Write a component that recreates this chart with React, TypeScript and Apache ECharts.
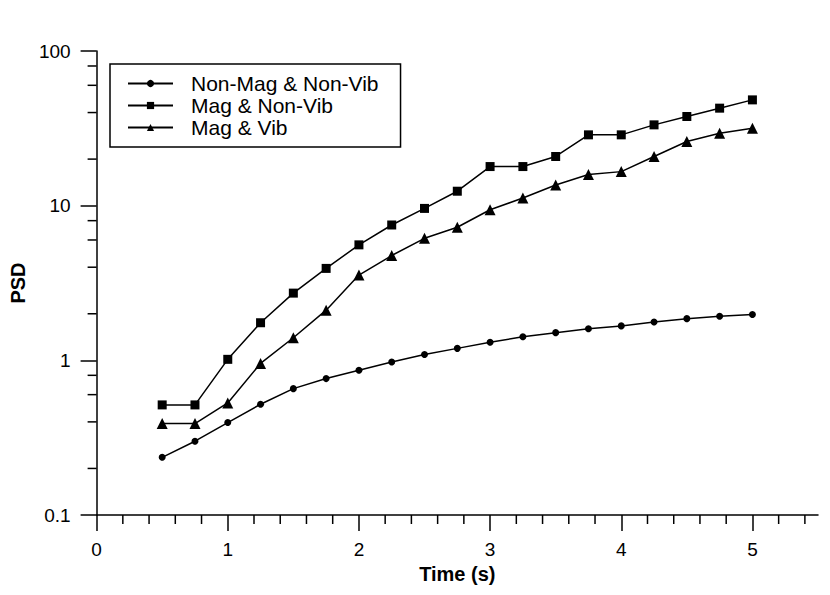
import React, { useEffect, useRef } from "react";
import * as echarts from "echarts";

const times = [0.5, 0.75, 1.0, 1.25, 1.5, 1.75, 2.0, 2.25, 2.5, 2.75, 3.0, 3.25, 3.5, 3.75, 4.0, 4.25, 4.5, 4.75, 5.0];
const nonMagNonVib = [0.236, 0.3, 0.396, 0.52, 0.656, 0.762, 0.862, 0.975, 1.09, 1.195, 1.31, 1.42, 1.51, 1.6, 1.67, 1.77, 1.86, 1.93, 1.98];
const magNonVib = [0.515, 0.515, 1.015, 1.75, 2.72, 3.93, 5.58, 7.5, 9.6, 12.4, 17.9, 17.9, 20.8, 28.7, 28.7, 33.3, 37.7, 42.7, 48.3];
const magVib = [0.39, 0.39, 0.53, 0.955, 1.4, 2.11, 3.56, 4.76, 6.15, 7.25, 9.41, 11.2, 13.6, 15.9, 16.6, 20.8, 26.0, 29.4, 31.7];

const seriesNames = ["Non-Mag & Non-Vib", "Mag & Non-Vib", "Mag & Vib"];
const xMajorTicks = [0, 1, 2, 3, 4, 5];
const xMinorTicks = [0.2, 0.4, 0.6, 0.8, 1.2, 1.4, 1.6, 1.8, 2.2, 2.4, 2.6, 2.8, 3.2, 3.4, 3.6, 3.8, 4.2, 4.4, 4.6, 4.8, 5.2, 5.4];
const yMinorTicks = [0.2, 0.4, 0.6, 0.8, 2, 4, 6, 8, 20, 40, 60, 80];

const FONT = '"Liberation Sans", Arial, Helvetica, sans-serif';

export default function App() {
  const ref = useRef<HTMLDivElement>(null);
  useEffect(() => {
    if (!ref.current) return;
    const chart = echarts.init(ref.current, undefined, { renderer: "svg" });
    const pair = (vals: number[]) => times.map((t, i) => [t, vals[i]]);
    const lineCommon = {
      type: "line",
      lineStyle: { color: "#000", width: 1.5 },
      itemStyle: { color: "#000" },
      showAllSymbol: true,
    };
    chart.setOption({
      animation: false,
      backgroundColor: "#fff",
      textStyle: { fontFamily: FONT },
      grid: { left: 92, right: 12, top: 51, bottom: 80, containLabel: false },
      legend: {
        data: seriesNames,
        orient: "vertical",
        left: 110,
        top: 64,
        padding: [9, 22, 9, 17],
        itemWidth: 45,
        itemHeight: 9,
        itemGap: 1,
        borderColor: "#000",
        borderWidth: 1.5,
        backgroundColor: "#fff",
        textStyle: { fontFamily: FONT, fontSize: 21, color: "#000", lineHeight: 21, padding: [0, 0, 0, 13] },
      },
      xAxis: {
        type: "value",
        min: 0,
        max: 5.5,
        interval: 1,
        name: "Time (s)",
        nameLocation: "middle",
        nameGap: 47,
        nameTextStyle: { fontFamily: FONT, fontSize: 20, fontWeight: "bold", color: "#000" },
        axisLine: { show: true, lineStyle: { color: "#000", width: 1.5 } },
        axisTick: { show: true, inside: false, length: 16, customValues: xMajorTicks, lineStyle: { color: "#000", width: 1.5 } },
        axisLabel: { customValues: xMajorTicks, margin: 25, fontFamily: FONT, fontSize: 19, color: "#000" },
        splitLine: { show: false },
      },
      yAxis: {
        type: "log",
        logBase: 10,
        min: 0.1,
        max: 100,
        name: "PSD",
        nameLocation: "middle",
        nameGap: 65,
        nameTextStyle: { fontFamily: FONT, fontSize: 20, fontWeight: "bold", color: "#000" },
        axisLine: { show: true, lineStyle: { color: "#000", width: 1.5 } },
        axisTick: { show: true, inside: false, length: 16, lineStyle: { color: "#000", width: 1.5 } },
        axisLabel: { margin: 26, fontFamily: FONT, fontSize: 19, color: "#000" },
        splitLine: { show: false },
      },
      series: [
        { ...lineCommon, name: seriesNames[0], data: pair(nonMagNonVib), symbol: "circle", symbolSize: 7 },
        { ...lineCommon, name: seriesNames[1], data: pair(magNonVib), symbol: "rect", symbolSize: 9 },
        { ...lineCommon, name: seriesNames[2], data: pair(magVib), symbol: "triangle", symbolSize: 11 },
        {
          type: "custom",
          name: "xMinor",
          silent: true,
          clip: false,
          data: xMinorTicks.map((v) => [v, 0.1]),
          renderItem: (params: any, api: any) => {
            const p = api.coord([api.value(0), api.value(1)]);
            return {
              type: "line",
              shape: { x1: p[0], y1: p[1], x2: p[0], y2: p[1] + 9 },
              style: { stroke: "#000", lineWidth: 1.5 },
            };
          },
        },
        {
          type: "custom",
          name: "yMinor",
          silent: true,
          clip: false,
          data: yMinorTicks.map((v) => [0, v]),
          renderItem: (params: any, api: any) => {
            const p = api.coord([api.value(0), api.value(1)]);
            return {
              type: "line",
              shape: { x1: p[0], y1: p[1], x2: p[0] - 9, y2: p[1] },
              style: { stroke: "#000", lineWidth: 1.5 },
            };
          },
        },
      ],
    });
    return () => chart.dispose();
  }, []);
  return (
    <div
      ref={ref}
      style={{ position: "absolute", left: 0, top: 0, width: 830, height: 595, background: "#fff" }}
    />
  );
}
